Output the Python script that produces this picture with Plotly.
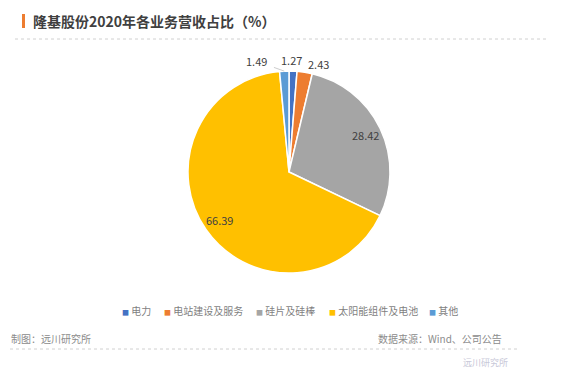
import math
import plotly.graph_objects as go

categories = ["电力", "电站建设及服务", "硅片及硅棒", "太阳能组件及电池", "其他"]
values = [1.27, 2.43, 28.42, 66.39, 1.49]
colors = ["#4472C4", "#ED7D31", "#A5A5A5", "#FFC000", "#5B9BD5"]
inside = [False, False, True, True, False]

W, H = 563, 378
# pie geometry (pixels)
CX, CY, R = 289, 172, 101
dom_x = [(CX - R) / W, (CX + R) / W]
dom_y = [1 - (CY + R) / H, 1 - (CY - R) / H]

fig = go.Figure()
fig.add_trace(go.Pie(
    labels=categories, values=values, sort=False, direction="clockwise", rotation=0,
    marker=dict(colors=colors, line=dict(color="white", width=1.5)),
    textinfo="none",
    domain=dict(x=dom_x, y=dom_y),
    showlegend=False, hoverinfo="label+value",
))

annotations = []
# data labels: inside ones along the slice's mid angle, small ones outside with leader lines
total = sum(values)
label_offsets = {0: (-2, -11), 1: (14, -8), 4: (-28, -10)}
cum = 0
for i, v in enumerate(values):
    mid = (cum + v / 2) / total * 2 * math.pi
    cum += v
    if inside[i]:
        rr = 0.84 * R
        px = CX + rr * math.sin(mid)
        py = CY - rr * math.cos(mid)
        annotations.append(dict(
            x=px / W, y=1 - py / H, xref="paper", yref="paper",
            text=f"{v:.2f}", showarrow=False, xanchor="center", yanchor="middle",
            font=dict(size=11, color="#404040"),
        ))
        continue
    px = CX + R * math.sin(mid)
    py = CY - R * math.cos(mid)
    ax, ay = label_offsets[i]
    annotations.append(dict(
        x=px / W, y=1 - py / H, xref="paper", yref="paper",
        text=f"{v:.2f}", showarrow=True, arrowhead=0, arrowwidth=0.8,
        arrowcolor="#BFBFBF", ax=ax, ay=ay, standoff=0, startstandoff=6,
        font=dict(size=11, color="#404040"),
    ))

# custom legend (small squares)
legend_x = [123, 165, 257, 330, 430]
for name, col, lx in zip(categories, colors, legend_x):
    annotations.append(dict(
        text=f"<span style='color:{col}; font-size:7px'>■</span> {name}",
        xref="paper", yref="paper", x=(lx - 3) / W, y=1 - 310 / H,
        xanchor="left", yanchor="middle", showarrow=False,
        font=dict(size=10, color="#7F7F7F"),
    ))

annotations += [
    dict(text="<b>隆基股份2020年各业务营收占比（%）</b>", xref="paper", yref="paper",
         x=31 / W, y=1 - 21 / H, xanchor="left", yanchor="middle", showarrow=False,
         font=dict(size=14, color="#404040")),
    dict(text="制图：远川研究所", xref="paper", yref="paper",
         x=9 / W, y=1 - 338 / H, xanchor="left", yanchor="middle", showarrow=False,
         font=dict(size=10, color="#8C8C8C")),
    dict(text="数据来源：Wind、公司公告", xref="paper", yref="paper",
         x=504 / W, y=1 - 338 / H, xanchor="right", yanchor="middle", showarrow=False,
         font=dict(size=10, color="#8C8C8C")),
    dict(text="远川研究所", xref="paper", yref="paper",
         x=510 / W, y=1 - 362 / H, xanchor="right", yanchor="middle", showarrow=False,
         font=dict(size=9, color="#C8C8D8")),
]

fig.update_layout(
    width=W, height=H, margin=dict(l=0, r=0, t=0, b=0),
    paper_bgcolor="white", plot_bgcolor="white",
    font=dict(family="Noto Sans CJK SC", color="#595959"),
    showlegend=False,
    shapes=[
        dict(type="rect", xref="paper", yref="paper", x0=22 / W, x1=25 / W,
             y0=1 - 28 / H, y1=1 - 14 / H, fillcolor="#ED7D31", line=dict(width=0)),
        dict(type="line", xref="paper", yref="paper", x0=15 / W, x1=548 / W,
             y0=1 - 39 / H, y1=1 - 39 / H, line=dict(color="#D0D0D0", width=1, dash="dot")),
        dict(type="line", xref="paper", yref="paper", x0=10 / W, x1=518 / W,
             y0=1 - 349 / H, y1=1 - 349 / H, line=dict(color="#D0D0D0", width=1, dash="dot")),
    ],
    annotations=annotations,
)
fig.write_html("out.html", config={"displayModeBar": False},
               post_script="document.body.style.margin='0';")
